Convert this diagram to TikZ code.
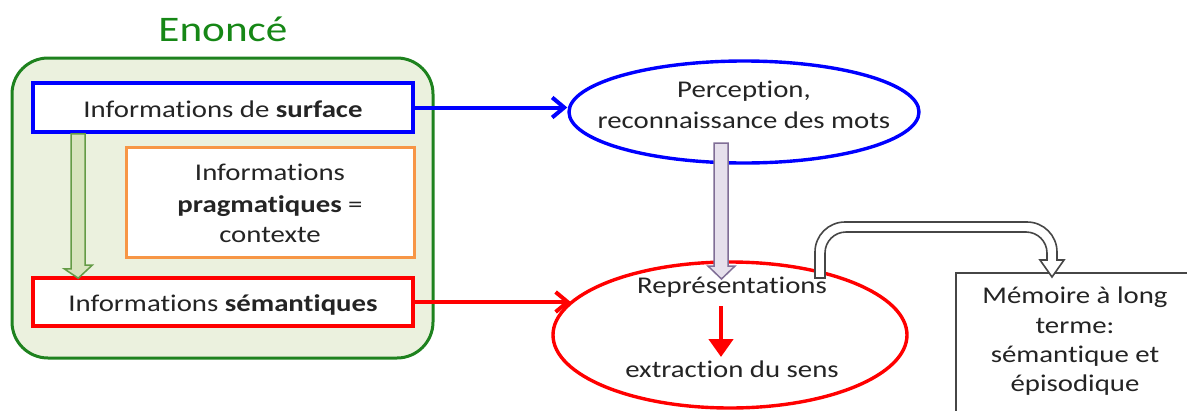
\documentclass[tikz,border=0pt]{standalone}
\usepackage{fontspec}
\setmainfont{Carlito}[FakeStretch=1.2, Ligatures={NoCommon}]
\usetikzlibrary{shapes.geometric,arrows.meta,calc}

\definecolor{titlegreen}{RGB}{22,135,22}
\definecolor{framegreen}{RGB}{30,130,30}
\definecolor{framefill}{RGB}{235,241,222}
\definecolor{arrowgreenfill}{RGB}{215,228,189}
\definecolor{arrowgreenline}{RGB}{100,155,70}
\definecolor{pragorange}{RGB}{247,150,70}
\definecolor{lavfill}{RGB}{230,224,236}
\definecolor{lavline}{RGB}{128,110,150}
\definecolor{inkgray}{RGB}{36,36,36}
\definecolor{boxgray}{RGB}{70,70,70}

\tikzset{
  txt/.style={anchor=base, inner sep=0pt, text=inkgray},
  infobox/.style={draw, line width=3.6pt, fill=white, minimum width=380pt,
    text height=19pt, text depth=0pt, inner sep=0pt, text=inkgray},
  flowarrow/.style={line width=4pt, -{Straight Barb[length=12pt,width=20pt,line width=4pt]}},
  blockarrow/.style={line width=1.5pt, line join=miter},
}

\begin{document}
\begin{tikzpicture}[x=1pt, y=-1pt, font=\fontsize{24}{31}\selectfont]
\useasboundingbox (0,0) rectangle (1187,410);
\clip (0,0) rectangle (1187,410);

% title and outer frame of the statement
\node[txt, text=titlegreen, font=\fontsize{36}{40}\selectfont] (enonce) at (223,41) {Enoncé};
\node[draw=framegreen, line width=3pt, fill=framefill, rounded corners=36pt,
      minimum width=421pt, minimum height=300pt, inner sep=0pt] (frame) at (222.5,208) {};

% the three kinds of information
\node[infobox, draw=blue, minimum height=49pt] (surf) at (223,107.5)
  {Informations de \textbf{surface}};
\node[draw=pragorange, line width=3pt, fill=white, minimum width=288pt,
      minimum height=110pt, inner sep=0pt] (prag) at (270,202) {};
\node[txt] (prag1) at (270,180) {Informations};
\node[txt] (prag2) at (270,212) {\textbf{pragmatiques} =};
\node[txt] (prag3) at (270,242) {contexte};
\node[infobox, draw=red, minimum height=48pt] (sem) at (223,302)
  {Informations \textbf{sémantiques}};

% hollow green arrow: surface -> semantic
\draw[blockarrow, draw=arrowgreenline, fill=arrowgreenfill]
  ($(surf.south west)+(40,0)$) coordinate (g0)
  -- ++(0,135) -- ++(-7,0) -- ($(sem.north west)+(47,2)$) coordinate (g1)
  -- ++(14,-13) -- ++(-7,0) -- ($(surf.south west)+(54,0)$) -- cycle;

% processing ellipses
\node[ellipse, draw=blue, line width=3.4pt, fill=white, minimum width=350pt,
      minimum height=102pt, inner sep=0pt] (perc) at (744,112) {};
\node[txt] (perc1) at (744,97) {Perception,};
\node[txt] (perc2) at (744,128) {reconnaissance des mots};

\node[ellipse, draw=red, line width=3.4pt, fill=white, minimum width=354pt,
      minimum height=146pt, inner sep=0pt] (rep) at (730,335) {};

% connectors from the statement to the processing stages
\draw[flowarrow, blue] (surf.east) -- (surf.east -| perc.west);
\draw[flowarrow, red] (sem.east) -- (sem.east -| rep.168);

% hollow lavender arrow: perception -> representations
\draw[blockarrow, draw=lavline, fill=lavfill]
  (714,143) -- (714,266) -- (708,266) -- (721.5,279) -- (735,266)
  -- (728,266) -- (728,143) -- cycle;

% long-term memory box
\node[draw=boxgray, line width=2.2pt, fill=white, anchor=north west,
      minimum width=245pt, minimum height=150pt, inner sep=0pt] (mem) at (955,272) {};
\node[txt] (mem1) at (1075,303) {Mémoire à long};
\node[txt] (mem2) at (1075,333) {terme:};
\node[txt] (mem3) at (1075,362) {sémantique et};
\node[txt] (mem4) at (1075,391) {épisodique};

% hollow curved arrow: representations -> memory
\coordinate (c0) at (815,278);
\coordinate (c1) at ($(mem.north west)+(97,5)$);
\draw[line width=1.6pt, draw=boxgray, fill=white, line join=miter]
  (c0) -- (815,252) .. controls (815,235.4) and (828.4,222) .. (845,222)
  -- (1027,222) .. controls (1043.6,222) and (1057,235.4) .. (1057,252)
  -- (1057,260) -- (1064,260) -- (c1) -- (1040,260) -- (1047,260)
  -- (1047,253) .. controls (1047,241.4) and (1037.6,232) .. (1026,232)
  -- (846,232) .. controls (834.4,232) and (825,241.4) .. (825,253)
  -- (825,278) -- cycle;

% contents of the representation ellipse
\node[txt] (rep1) at (732,293) {Représentations};
\node[txt] (rep2) at (732,377) {extraction du sens};
\coordinate (r0) at (721,306);
\coordinate (r1) at (721,357);
\draw[red, line width=4.5pt, -{Triangle[length=18pt,width=24pt]}] (r0) -- (r1);
\end{tikzpicture}
\end{document}
